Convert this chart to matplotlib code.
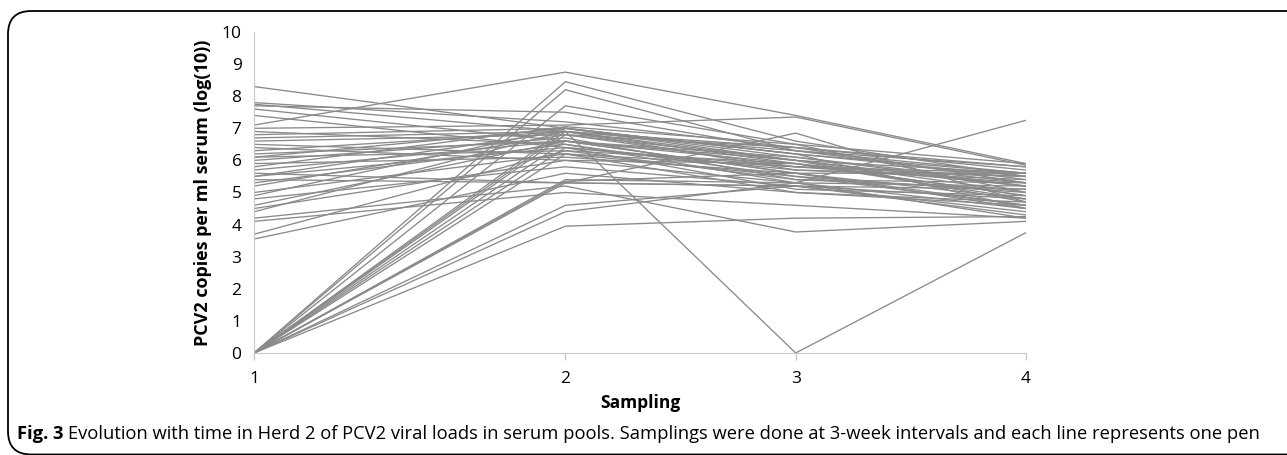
import numpy as np
import matplotlib
matplotlib.use("Agg")
import matplotlib.pyplot as plt
from matplotlib.patches import FancyBboxPatch

# sampling positions (as placed on the original axis) and their labels
x_pos = [1, 2.21, 3.105, 4]
x_labels = ["1", "2", "3", "4"]

# one row per pen: log10 PCV2 copies at samplings 1..4
s1 = [8.3, 7.1, 7.8, 7.75, 7.7, 7.6, 7.4, 7.0, 6.9, 6.8, 6.6, 6.5, 6.3, 6.2, 6.1, 6.1,
      6.0, 5.9, 5.7, 5.6, 5.5, 5.5, 5.4, 5.3, 5.2, 5.0, 4.9, 4.8, 4.6, 4.5, 4.4, 4.2,
      4.1, 3.7, 3.55, 6.7, 5.8, 6.4,
      0, 0, 0, 0, 0, 0, 0, 0, 0, 0, 0, 0, 0, 0, 0]
s2 = [7.0, 8.75, 7.2, 6.9, 7.5, 6.6, 6.4, 7.1, 6.5, 7.0, 6.8, 6.2, 6.9, 6.6, 6.3, 7.0,
      6.7, 6.1, 6.6, 5.3, 6.9, 6.4, 5.3, 6.5, 6.8, 6.2, 7.0, 5.8, 6.6, 6.0, 6.9, 5.2,
      5.0, 6.3, 5.6, 6.9, 7.05, 6.0,
      8.45, 8.2, 7.7, 7.0, 6.9, 6.8, 6.6, 6.4, 6.2, 5.4, 5.3, 5.35, 4.6, 4.4, 3.95]
s3 = [6.2, 7.4, 6.4, 6.0, 6.3, 5.9, 5.7, 7.35, 5.5, 6.1, 6.0, 5.8, 6.4, 5.6, 5.9, 6.2,
      5.4, 5.6, 6.0, 5.2, 6.3, 5.1, 6.85, 5.3, 5.8, 5.5, 6.0, 5.2, 6.1, 5.9, 5.7, 3.77,
      4.6, 5.4, 5.0, 0.0, 6.5, 5.3,
      6.6, 6.3, 6.5, 6.2, 5.9, 6.4, 5.6, 5.8, 5.0, 5.3, 5.2, 5.6, 5.2, 5.3, 4.2]
s4 = [5.5, 5.9, 5.8, 5.2, 5.6, 4.9, 5.4, 5.85, 4.6, 5.3, 5.0, 5.5, 5.7, 4.8, 5.2, 4.5,
      5.1, 5.6, 4.7, 4.3, 5.4, 4.9, 4.7, 7.25, 5.3, 5.0, 5.6, 4.4, 5.2, 4.8, 5.5, 4.1,
      4.2, 5.3, 4.6, 3.75, 5.9, 4.5,
      5.5, 5.8, 5.0, 5.6, 4.9, 5.3, 4.6, 5.6, 4.7, 5.2, 5.1, 4.5, 4.8, 4.2, 4.25]

font = "Open Sans"
plt.rcParams["font.family"] = [font, "DejaVu Sans"]

fig = plt.figure(figsize=(12.87, 4.55), dpi=100)
ax = fig.add_axes([0.1974, 0.2242, 0.5998, 0.7055])

for a, b, c, d in zip(s1, s2, s3, s4):
    ax.plot(x_pos, [a, b, c, d], color="#8a8a8a", lw=0.95)

ax.set_xlim(1, 4)
ax.set_ylim(0, 10)
ax.set_yticks(range(0, 11))
ax.set_xticks(x_pos)
ax.set_xticklabels(x_labels)
ax.tick_params(axis="y", length=0, labelsize=12.5, pad=9)
ax.tick_params(axis="x", length=5, color="#bfbfbf", labelsize=12.5, pad=8)
for side in ["top", "right"]:
    ax.spines[side].set_visible(False)
ax.spines["left"].set_color("#c8c8c8")
ax.spines["bottom"].set_color("#c8c8c8")
ax.set_ylabel("PCV2 copies per ml serum (log(10))", fontsize=13, fontweight="bold", labelpad=7)
ax.set_xlabel("Sampling", fontsize=12.5, fontweight="bold", labelpad=5)

# rounded frame around the figure panel
W, H = 1287.0, 455.0
box = FancyBboxPatch((8 / W, (H - 454.5) / H), 1.2, (454.5 - 11) / H,
                     boxstyle="round,pad=0,rounding_size=0.018",
                     transform=fig.transFigure, fill=False, ec="black", lw=1.3,
                     mutation_aspect=W / H, clip_on=False)
fig.patches.append(box)

# caption
cy = 1 - 434 / H
t1 = fig.text(17 / W, cy, "Fig. 3", fontsize=13.2, fontweight="bold", va="center")
fig.canvas.draw()
r = fig.canvas.get_renderer()
bb = t1.get_window_extent(r)
fig.text((bb.x1 + 4) / W, cy,
         "Evolution with time in Herd 2 of PCV2 viral loads in serum pools. "
         "Samplings were done at 3-week intervals and each line represents one pen",
         fontsize=13.2, va="center")

fig.savefig("out.png", dpi=100)
